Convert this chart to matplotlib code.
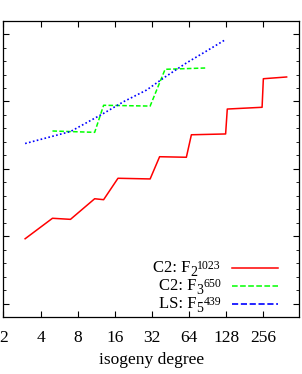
import matplotlib
matplotlib.use("Agg")
import matplotlib.pyplot as plt
from matplotlib.ticker import FixedLocator, NullFormatter, NullLocator
from matplotlib.transforms import offset_copy

plt.rcParams['font.family'] = ['Liberation Serif', 'DejaVu Serif']

# C2 over F_2^1023
deg_c2_f2 = [3, 5, 7, 11, 13, 17, 31, 37, 61, 67, 127, 131, 251, 257, 397]
val_c2_f2 = [4.81, 6.33, 6.25, 7.78, 7.71, 9.30, 9.25, 10.90, 10.86,
             12.53, 12.59, 14.44, 14.57, 16.69, 16.82]

# C2 over F_3^650
deg_c2_f3 = [5, 11, 13, 31, 41, 89]
val_c2_f3 = [12.81, 12.71, 14.72, 14.66, 17.39, 17.49]

# LS over F_5^439
deg_ls_f5 = [3, 7, 13, 19, 29, 41, 61, 89, 127]
val_ls_f5 = [11.88, 12.77, 14.12, 15.0, 15.85, 16.82, 17.86, 18.75, 19.6]

xticks = [2, 4, 8, 16, 32, 64, 128, 256]

# legend labels as (text, subscript, superscript), gnuplot enhanced style
labels = [('C2: F', '2', '1023'),
          ('C2: F', '3', '650'),
          ('LS: F', '5', '439')]

fig = plt.figure(figsize=(3.02, 3.74), dpi=100)
ax = fig.add_axes([0.0113, 0.1524, 0.9787, 0.7923])

l1, = ax.plot(deg_c2_f2, val_c2_f2, color='#ff0000', lw=1.1, ls='-')
l2, = ax.plot(deg_c2_f3, val_c2_f3, color='#00ff00', lw=1.1, ls=(0, (3, 1.5)))
l3, = ax.plot(deg_ls_f5, val_ls_f5, color='#0000ff', lw=1.2, ls=(0, (1, 1.4)))

ax.set_xscale('log', base=2)
ax.set_xlim(2, 500)
ax.set_ylim(-1, 21)
ax.xaxis.set_major_locator(FixedLocator(xticks))
ax.xaxis.set_minor_locator(NullLocator())
ax.set_xticklabels([str(t) for t in xticks])
ax.set_yticks([0, 5, 10, 15, 20])
ax.set_yticks(range(-1, 22), minor=True)
ax.yaxis.set_major_formatter(NullFormatter())
ax.tick_params(axis='both', which='both', direction='in', top=True, right=True,
               labelsize=12.5)
ax.tick_params(axis='x', which='major', length=4.5, pad=9)
ax.tick_params(axis='y', which='major', length=4)
ax.tick_params(axis='y', which='minor', length=2)
for s in ax.spines.values():
    s.set_linewidth(0.9)

ax.set_xlabel('isogeny degree', fontsize=12.5, labelpad=5)

# legend: right aligned text, sample line on the right
renderer = fig.canvas.get_renderer()
rows = [0.164, 0.104, 0.044]
x_txt = 0.736
for line, (main, sub, sup), yy in zip([l1, l2, l3], labels, rows):
    ax.plot([0.772, 0.93], [yy, yy], transform=ax.transAxes,
            color=line.get_color(), lw=line.get_linewidth(),
            ls=line.get_linestyle())
    yb = yy - 0.0135
    shift = 0.0
    for txt, size, dy in [(sup, 8.5, 2.4), (sub, 10, -2.9), (main, 12, 0)]:
        tr = offset_copy(ax.transAxes, fig=fig, x=-shift, y=dy, units='points')
        t = ax.text(x_txt, yb, txt, transform=tr, ha='right', va='baseline',
                    fontsize=size)
        shift += t.get_window_extent(renderer).width * 72.0 / fig.dpi

fig.savefig('out.png', dpi=100)
